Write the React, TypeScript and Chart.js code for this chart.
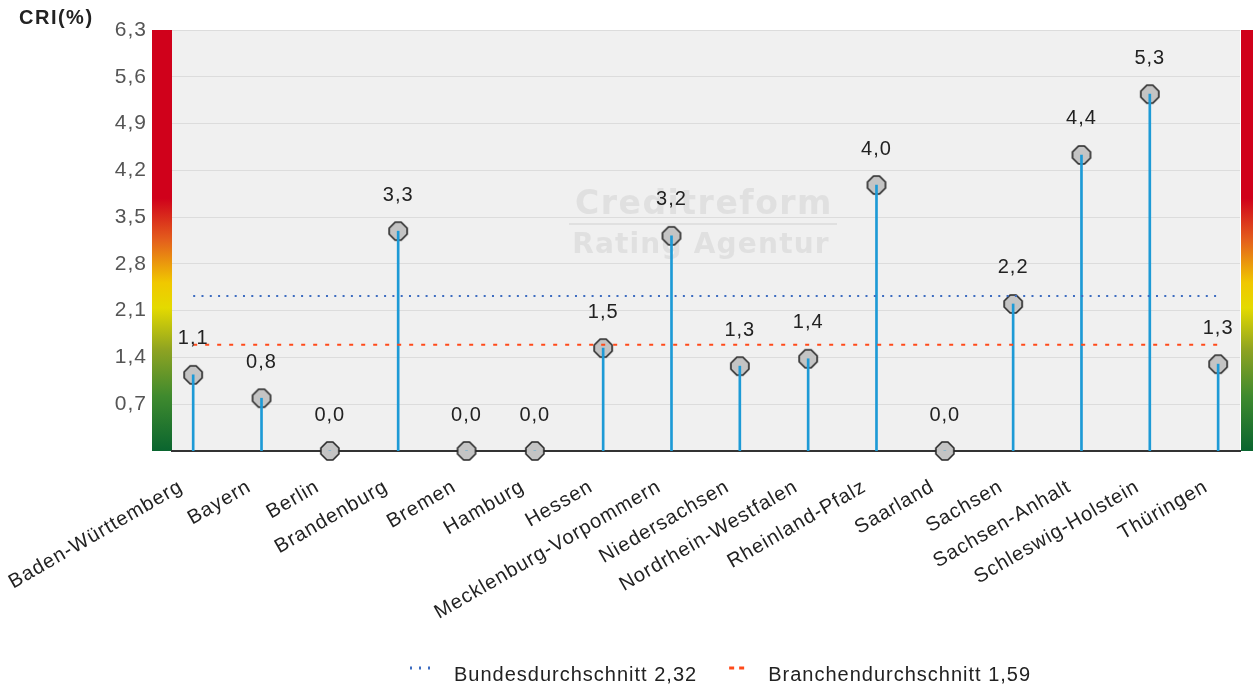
import React, { useEffect, useRef } from "react";
import { Chart, registerables } from "chart.js";

Chart.register(...registerables);

const categories = [
  "Baden-Württemberg", "Bayern", "Berlin", "Brandenburg", "Bremen", "Hamburg", "Hessen",
  "Mecklenburg-Vorpommern", "Niedersachsen", "Nordrhein-Westfalen", "Rheinland-Pfalz",
  "Saarland", "Sachsen", "Sachsen-Anhalt", "Schleswig-Holstein", "Thüringen",
];
const criValues = [1.14, 0.79, 0, 3.29, 0, 0, 1.54, 3.22, 1.27, 1.38, 3.98, 0, 2.2, 4.43, 5.34, 1.3];
const yTickValues = [0.7, 1.4, 2.1, 2.8, 3.5, 4.2, 4.9, 5.6, 6.3];
const yMax = 6.3;
const bundesAvg = 2.32;
const branchenAvg = 1.59;
const legendLabels = ["Bundesdurchschnitt 2,32", "Branchendurchschnitt 1,59"];

const FONT = "'Liberation Sans', Arial, sans-serif";
const fmt = (v: number) => v.toFixed(1).replace(".", ",");

function makeMarker() {
  const c = document.createElement("canvas");
  c.width = 22;
  c.height = 22;
  const ctx = c.getContext("2d")!;
  ctx.translate(11, 11);
  const p: [number, number][] = [
    [-3, -9], [3, -9], [9, -3], [9, 3], [3, 9], [-3, 9], [-9, 3], [-9, -3],
  ];
  ctx.beginPath();
  p.forEach(([x, y], i) => (i ? ctx.lineTo(x, y) : ctx.moveTo(x, y)));
  ctx.closePath();
  ctx.fillStyle = "#c4c4c4";
  ctx.fill();
  ctx.lineWidth = 1.6;
  ctx.strokeStyle = "#262626";
  ctx.stroke();
  return c;
}

export default function App() {
  const ref = useRef<HTMLCanvasElement>(null);
  useEffect(() => {
    document.body.style.margin = "0";
    const marker = makeMarker();
    const n = categories.length;
    const spacing = (chart: any) => {
      (chart.ctx as any).letterSpacing = "1px";
    };

    const decor = {
      id: "decor",
      beforeLayout: spacing,
      beforeDraw(chart: any) {
        spacing(chart);
        const { ctx, chartArea: a } = chart;
        ctx.save();
        ctx.fillStyle = "#f0f0f0";
        ctx.fillRect(a.left, a.top, a.right - a.left, a.bottom - a.top);
        const g = ctx.createLinearGradient(0, a.top, 0, a.bottom);
        g.addColorStop(0, "#d0011b");
        g.addColorStop(0.4, "#d0011b");
        g.addColorStop(0.5, "#e4601c");
        g.addColorStop(0.6, "#f0c800");
        g.addColorStop(0.66, "#e4da00");
        g.addColorStop(0.76, "#8ea322");
        g.addColorStop(0.87, "#3f8a2e");
        g.addColorStop(1, "#0a652f");
        ctx.fillStyle = g;
        ctx.fillRect(a.left - 20, a.top, 20, a.bottom - a.top);
        ctx.fillRect(a.right + 1, a.top, 20, a.bottom - a.top);
        // axis title
        ctx.letterSpacing = "1.5px";
        ctx.fillStyle = "#222";
        ctx.font = `bold 20px ${FONT}`;
        ctx.textAlign = "left";
        ctx.textBaseline = "middle";
        ctx.fillText("CRI(%)", 19, 18);
        ctx.restore();
      },
      beforeDatasetsDraw(chart: any) {
        const { ctx, chartArea: a } = chart;
        const cx = (a.left + a.right) / 2 - 3;
        ctx.save();
        ctx.fillStyle = "#e0e0e0";
        ctx.textAlign = "center";
        ctx.textBaseline = "middle";
        ctx.letterSpacing = "1.5px";
        ctx.font = `bold 33px 'DejaVu Sans', sans-serif`;
        ctx.fillText("Creditreform", cx + 1, a.top + 175);
        ctx.letterSpacing = "1.2px";
        ctx.font = `bold 28px 'DejaVu Sans', sans-serif`;
        ctx.fillText("Rating Agentur", cx - 2, a.top + 216);
        ctx.fillRect(cx - 134, a.top + 193, 268, 2);
        ctx.restore();
      },
      afterDatasetsDraw(chart: any) {
        const { ctx } = chart;
        const meta = chart.getDatasetMeta(3);
        ctx.save();
        ctx.letterSpacing = "1px";
        ctx.fillStyle = "#222";
        ctx.font = `20px ${FONT}`;
        ctx.textAlign = "center";
        ctx.textBaseline = "middle";
        meta.data.forEach((pt: any, i: number) => {
          ctx.fillText(fmt(criValues[i]), pt.x, pt.y - 36);
        });
        ctx.restore();
      },
      afterDraw(chart: any) {
        const { ctx, chartArea: a } = chart;
        ctx.save();
        ctx.letterSpacing = "1px";
        ctx.font = `20px ${FONT}`;
        ctx.textBaseline = "middle";
        ctx.textAlign = "left";
        const y = chart.height - 11;
        const items = [
          { color: "#3d6cc0", dash: [2, 7], w: 20, text: legendLabels[0] },
          { color: "#ff4a1a", dash: [5, 5], w: 15, text: legendLabels[1] },
        ];
        let x = a.left + 238;
        items.forEach((it) => {
          ctx.strokeStyle = it.color;
          ctx.lineWidth = 3;
          ctx.setLineDash(it.dash);
          ctx.beginPath();
          ctx.moveTo(x, y - 7);
          ctx.lineTo(x + it.w, y - 7);
          ctx.stroke();
          ctx.setLineDash([]);
          ctx.fillStyle = "#222";
          ctx.fillText(it.text, x + it.w + 24, y);
          x += it.w + 24 + ctx.measureText(it.text).width + 32;
        });
        ctx.restore();
      },
    };

    const chart = new Chart(ref.current!, {
      type: "bar",
      data: {
        datasets: [
          {
            type: "line",
            data: [{ x: 0, y: bundesAvg }, { x: n - 1, y: bundesAvg }],
            borderColor: "#3d6cc0",
            borderWidth: 2,
            borderDash: [2, 6.3],
            pointRadius: 0,
            fill: false,
          } as any,
          {
            type: "line",
            data: [{ x: 0, y: branchenAvg }, { x: n - 1, y: branchenAvg }],
            borderColor: "#ff4a1a",
            borderWidth: 2,
            borderDash: [4, 8],
            pointRadius: 0,
            fill: false,
          } as any,
          {
            type: "bar",
            data: criValues.map((v, i) => ({ x: i, y: v })),
            backgroundColor: "#1d9ad6",
            barThickness: 2,
          } as any,
          {
            type: "line",
            data: criValues.map((v, i) => ({ x: i, y: v })),
            showLine: false,
            pointStyle: marker,
            pointRadius: 10,
            clip: false,
          } as any,
        ],
      },
      options: {
        animation: false,
        responsive: true,
        maintainAspectRatio: false,
        layout: { padding: { top: 30, right: 13, left: 0, bottom: 0 } },
        plugins: { legend: { display: false }, tooltip: { enabled: false } },
        scales: {
          x: {
            type: "linear",
            offset: false,
            min: -0.31,
            max: n - 1 + 0.32,
            grid: { display: false, drawTicks: false },
            border: { display: true, color: "#333", width: 2 },
            afterBuildTicks: (s: any) => {
              s.ticks = categories.map((_, i) => ({ value: i }));
            },
            afterFit: (s: any) => {
              s.height = s.chart.height - 451;
              s.paddingLeft = 0;
              s.paddingRight = 0;
            },
            ticks: {
              autoSkip: false,
              minRotation: 30,
              maxRotation: 30,
              padding: 24,
              labelOffset: -12,
              color: "#222",
              font: { family: FONT, size: 20 },
              callback: (v: any) => categories[v] ?? "",
            },
          },
          y: {
            type: "linear",
            min: 0,
            max: yMax,
            grid: { color: "#dcdcdc", lineWidth: 1, drawTicks: false },
            border: { display: false },
            afterBuildTicks: (s: any) => {
              s.ticks = yTickValues.map((v) => ({ value: v }));
            },
            afterFit: (s: any) => {
              s.width = 172;
              s.paddingTop = 0;
              s.paddingBottom = 0;
            },
            ticks: {
              padding: 25,
              color: "#555",
              font: { family: FONT, size: 21 },
              callback: (v: any) => fmt(Number(v)),
            },
          },
        },
      },
      plugins: [decor],
    });
    return () => chart.destroy();
  }, []);
  return (
    <div style={{ width: 1253, height: 686, position: "relative" }}>
      <canvas ref={ref} />
    </div>
  );
}
